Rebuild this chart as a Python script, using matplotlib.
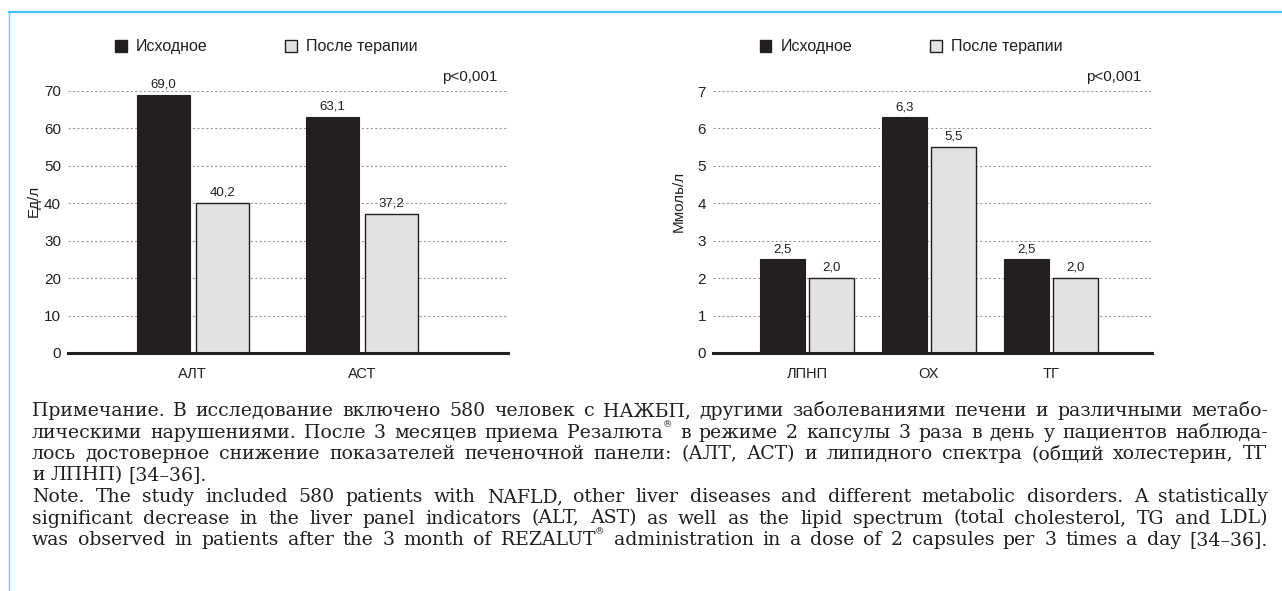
import matplotlib
matplotlib.use("Agg")
import matplotlib.pyplot as plt
import matplotlib.patches as mpatches
from matplotlib.lines import Line2D
import numpy as np

# --- data -------------------------------------------------------------
liver_cats = ["АЛТ", "АСТ"]
liver_before = [69.0, 63.1]
liver_after = [40.2, 37.2]
liver_ticks = [0, 10, 20, 30, 40, 50, 60, 70]

lipid_cats = ["ЛПНП", "ОХ", "ТГ"]
lipid_before = [2.5, 6.3, 2.5]
lipid_after = [2.0, 5.5, 2.0]
lipid_ticks = [0, 1, 2, 3, 4, 5, 6, 7]

series_names = ["Исходное", "После терапии"]
p_text = "p<0,001"

note_lines = [
    "Примечание. В исследование включено 580 человек с НАЖБП, другими заболеваниями печени и различными метабо-",
    "лическими нарушениями. После 3 месяцев приема Резалюта® в режиме 2 капсулы 3 раза в день у пациентов наблюда-",
    "лось достоверное снижение показателей печеночной панели: (АЛТ, АСТ) и липидного спектра (общий холестерин, ТГ",
    "и ЛПНП) [34–36].",
    "Note. The study included 580 patients with NAFLD, other liver diseases and different metabolic disorders. A statistically",
    "significant decrease in the liver panel indicators (ALT, AST) as well as the lipid spectrum (total cholesterol, TG and LDL)",
    "was observed in patients after the 3 month of REZALUT® administration in a dose of 2 capsules per 3 times a day [34–36].",
]
ragged_lines = {3}  # paragraph ends, not justified

# --- style ------------------------------------------------------------
SANS = ["Liberation Sans", "DejaVu Sans"]
SERIF = ["DejaVu Serif"]
plt.rcParams["font.family"] = SANS
DARK = "#231f20"
LIGHT = "#e1e2e4"
GRID = "#9a9a9a"
FRAME = "#45c6f2"

W, H = 1282, 591
fig = plt.figure(figsize=(W / 100, H / 100), dpi=100)


def px_box(x0, x1, y_top, y_bot):
    return [x0 / W, 1 - y_bot / H, (x1 - x0) / W, (y_bot - y_top) / H]


def draw_panel(ax, cats, before, after, ticks, half_gap, width, xlim, ylabel, fmt,
               leg_x, ylab_x):
    x = np.arange(len(cats))
    ax.bar(x - half_gap, before, width, color=DARK, edgecolor=DARK, linewidth=0.8, zorder=3)
    ax.bar(x + half_gap, after, width, color=LIGHT, edgecolor=DARK, linewidth=1.0, zorder=3)
    for xi, b, a in zip(x, before, after):
        ax.annotate(fmt(b), (xi - half_gap, b), xytext=(0, 3), textcoords="offset points",
                    ha="center", va="bottom", fontsize=9.5, color=DARK)
        ax.annotate(fmt(a), (xi + half_gap, a), xytext=(0, 3), textcoords="offset points",
                    ha="center", va="bottom", fontsize=9.5, color=DARK)
    ax.set_xlim(*xlim)
    ax.set_ylim(ticks[0], ticks[-1])
    ax.set_yticks(ticks)
    ax.set_xticks(x)
    ax.set_xticklabels(cats)
    ax.tick_params(length=0, labelsize=11, colors=DARK)
    ax.tick_params(axis="x", pad=10)
    ax.tick_params(axis="y", pad=5)
    for t in ax.get_xticklabels():
        t.set_fontsize(10.5)
    for s in ["top", "right", "left"]:
        ax.spines[s].set_visible(False)
    ax.spines["bottom"].set_linewidth(2.2)
    ax.spines["bottom"].set_color(DARK)
    ax.spines["bottom"].set_zorder(4)
    ax.yaxis.grid(True, linestyle=(0, (2, 2)), color=GRID, linewidth=0.8, zorder=0)
    ax.set_axisbelow(True)
    ax.set_ylabel(ylabel, fontsize=11, color=DARK)
    ax.yaxis.set_label_coords(ylab_x, 0.58)
    ax.text(0.977, 1.055, p_text, transform=ax.transAxes, ha="right", va="center",
            fontsize=11, color=DARK)
    handles = [
        mpatches.Patch(facecolor=DARK, edgecolor=DARK, label=series_names[0]),
        mpatches.Patch(facecolor=LIGHT, edgecolor=DARK, linewidth=1.0, label=series_names[1]),
    ]
    leg = ax.legend(handles=handles, ncol=2, frameon=False, loc="center left",
                    bbox_to_anchor=(leg_x, 1.168), fontsize=11.5, handlelength=0.72,
                    handleheight=0.72, handletextpad=0.55, columnspacing=4.9,
                    borderaxespad=0, borderpad=0)
    for t in leg.get_texts():
        t.set_color(DARK)


ax1 = fig.add_axes(px_box(68, 508, 91, 353))
draw_panel(ax1, liver_cats, liver_before, liver_after, liver_ticks,
           0.175, 0.314, (-0.738, 1.865), "Ед/л", lambda v: f"{v:.1f}".replace(".", ","),
           0.107, -0.063)

ax2 = fig.add_axes(px_box(713, 1152, 91, 353))
draw_panel(ax2, lipid_cats, lipid_before, lipid_after, lipid_ticks,
           0.2, 0.367, (-0.77, 2.83), "Ммоль/л", lambda v: f"{v:.1f}".replace(".", ","),
           0.107, -0.063)

# frame lines (top and left, light blue)
fig.add_artist(Line2D([8.5 / W, 1], [1 - 12 / H, 1 - 12 / H], color=FRAME, lw=1.6))
fig.add_artist(Line2D([9 / W, 9 / W], [0, 1 - 12 / H], color=FRAME, lw=1.0, alpha=0.8))

# --- justified note ---------------------------------------------------
renderer = fig.canvas.get_renderer()
text_left, text_right = 32, 1268
base_y, line_step = 416, 21.5
note_size = 13.6


def measure(word, size):
    t = fig.text(0, 0, word.replace("®", ""), fontsize=size, family=SERIF)
    w = t.get_window_extent(renderer).width
    t.remove()
    if "®" in word:
        t = fig.text(0, 0, "®", fontsize=size * 0.5, family=SERIF)
        w += t.get_window_extent(renderer).width
        t.remove()
    return w


def draw_word(word, size, x, y):
    """Draw one word, with a small raised ® if present."""
    parts = [(word, size, 0)]
    if "®" in word:
        head, tail = word.split("®", 1)
        parts = [(head, size, 0), ("®", size * 0.5, size * 0.55)]
        if tail:
            parts.append((tail, size, 0))
    cx = x
    for s, fs, dy in parts:
        t = fig.text(cx / W, 1 - (y - dy * 100 / 72) / H, s, fontsize=fs, family=SERIF,
                     color=DARK, ha="left", va="baseline")
        cx += t.get_window_extent(renderer).width


space_w = measure("a a", note_size) - 2 * measure("a", note_size)
# shrink the note font if the widest justified line would not fit
natural = max(sum(measure(w, note_size) for w in ln.split(" ")) + space_w * (len(ln.split(" ")) - 1)
              for i, ln in enumerate(note_lines) if i not in ragged_lines)
if natural > text_right - text_left:
    note_size *= (text_right - text_left) / natural * 0.99
    space_w = measure("a a", note_size) - 2 * measure("a", note_size)

for i, line in enumerate(note_lines):
    words = line.split(" ")
    widths = [measure(w, note_size) for w in words]
    y = base_y + i * line_step
    if i in ragged_lines or len(words) < 2:
        gap = space_w
    else:
        gap = (text_right - text_left - sum(widths)) / (len(words) - 1)
    x = text_left
    for w, ww in zip(words, widths):
        draw_word(w, note_size, x, y)
        x += ww + gap

fig.savefig("out.png", dpi=100)
